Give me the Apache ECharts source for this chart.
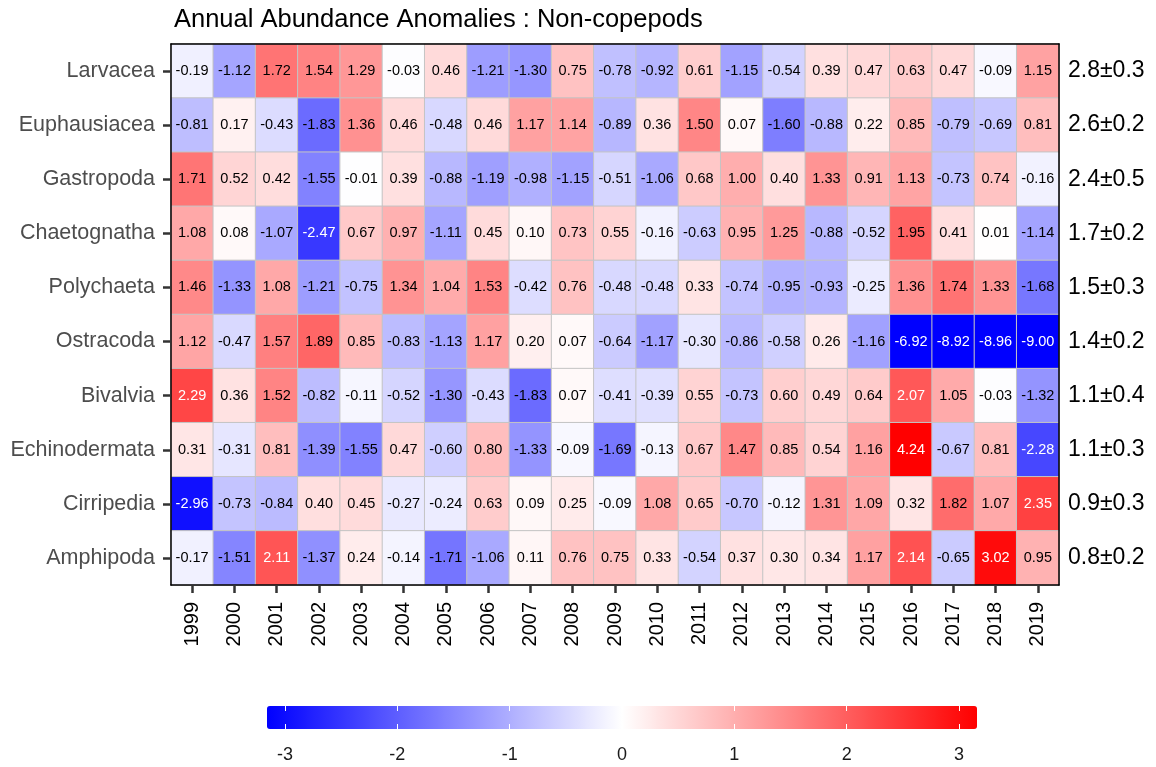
<!DOCTYPE html>
<html><head><meta charset="utf-8">
<script src="https://cdn.jsdelivr.net/npm/echarts@6/dist/echarts.min.js"></script>
<style>html,body{margin:0;padding:0;background:#fff}#c{width:1156px;height:767px}</style>
</head><body><div id="c"></div>
<script>
const years = ['1999','2000','2001','2002','2003','2004','2005','2006','2007','2008','2009','2010','2011','2012','2013','2014','2015','2016','2017','2018','2019'];
const taxa = ['Larvacea','Euphausiacea','Gastropoda','Chaetognatha','Polychaeta','Ostracoda','Bivalvia','Echinodermata','Cirripedia','Amphipoda'];
const rightLabels = ['2.8±0.3','2.6±0.2','2.4±0.5','1.7±0.2','1.5±0.3','1.4±0.2','1.1±0.4','1.1±0.3','0.9±0.3','0.8±0.2'];
const larvacea = [-0.19,-1.12,1.72,1.54,1.29,-0.03,0.46,-1.21,-1.30,0.75,-0.78,-0.92,0.61,-1.15,-0.54,0.39,0.47,0.63,0.47,-0.09,1.15];
const euphausiacea = [-0.81,0.17,-0.43,-1.83,1.36,0.46,-0.48,0.46,1.17,1.14,-0.89,0.36,1.50,0.07,-1.60,-0.88,0.22,0.85,-0.79,-0.69,0.81];
const gastropoda = [1.71,0.52,0.42,-1.55,-0.01,0.39,-0.88,-1.19,-0.98,-1.15,-0.51,-1.06,0.68,1.00,0.40,1.33,0.91,1.13,-0.73,0.74,-0.16];
const chaetognatha = [1.08,0.08,-1.07,-2.47,0.67,0.97,-1.11,0.45,0.10,0.73,0.55,-0.16,-0.63,0.95,1.25,-0.88,-0.52,1.95,0.41,0.01,-1.14];
const polychaeta = [1.46,-1.33,1.08,-1.21,-0.75,1.34,1.04,1.53,-0.42,0.76,-0.48,-0.48,0.33,-0.74,-0.95,-0.93,-0.25,1.36,1.74,1.33,-1.68];
const ostracoda = [1.12,-0.47,1.57,1.89,0.85,-0.83,-1.13,1.17,0.20,0.07,-0.64,-1.17,-0.30,-0.86,-0.58,0.26,-1.16,-6.92,-8.92,-8.96,-9.00];
const bivalvia = [2.29,0.36,1.52,-0.82,-0.11,-0.52,-1.30,-0.43,-1.83,0.07,-0.41,-0.39,0.55,-0.73,0.60,0.49,0.64,2.07,1.05,-0.03,-1.32];
const echinodermata = [0.31,-0.31,0.81,-1.39,-1.55,0.47,-0.60,0.80,-1.33,-0.09,-1.69,-0.13,0.67,1.47,0.85,0.54,1.16,4.24,-0.67,0.81,-2.28];
const cirripedia = [-2.96,-0.73,-0.84,0.40,0.45,-0.27,-0.24,0.63,0.09,0.25,-0.09,1.08,0.65,-0.70,-0.12,1.31,1.09,0.32,1.82,1.07,2.35];
const amphipoda = [-0.17,-1.51,2.11,-1.37,0.24,-0.14,-1.71,-1.06,0.11,0.76,0.75,0.33,-0.54,0.37,0.30,0.34,1.17,2.14,-0.65,3.02,0.95];
const colorbarTicks = [-3,-2,-1,0,1,2,3];

const rows = [larvacea,euphausiacea,gastropoda,chaetognatha,polychaeta,ostracoda,bivalvia,echinodermata,cirripedia,amphipoda];
const LIM = 3.16;
const FF = '"Liberation Sans", Arial, sans-serif';
const data = [];
rows.forEach((r,i)=>r.forEach((v,j)=>{
  const c = Math.max(-LIM, Math.min(LIM, v));
  data.push({value:[j,i,c,v], label:{show:true, fontFamily:FF, fontSize:14.5, color: Math.abs(v) > 2 ? '#ffffff' : '#000000'}});
}));
const chart = echarts.init(document.getElementById('c'), null, {renderer:'canvas'});
chart.setOption({
  animation:false,
  backgroundColor:'#ffffff',
  title:{text:'Annual Abundance Anomalies : Non-copepods', left:169, top:2,
    textStyle:{fontFamily:FF, fontSize:25.5, fontWeight:'normal', color:'#000'}},
  grid:[
    {left:171, top:44, width:888, height:541, containLabel:false},
    {left:267, top:706, width:710, height:23}
  ],
  xAxis:[
    {type:'category', data:years, gridIndex:0, position:'bottom', z:5,
     axisLine:{show:true, lineStyle:{color:'#000', width:1.5}},
     axisTick:{show:true, alignWithLabel:true, length:8, lineStyle:{color:'#333', width:2.5}},
     axisLabel:{rotate:90, margin:17, fontFamily:FF, fontSize:20, color:'#000'},
     splitLine:{show:false}},
    {type:'category', data:years, gridIndex:0, position:'top', z:5,
     axisLine:{show:true, lineStyle:{color:'#000', width:1.5}},
     axisTick:{show:false}, axisLabel:{show:false}},
    {type:'value', gridIndex:1, min:-LIM, max:LIM, position:'bottom', z:10,
     axisLine:{show:false}, splitLine:{show:false},
     axisTick:{show:true, inside:true, length:5, customValues:colorbarTicks, lineStyle:{color:'#fff', width:1}},
     axisLabel:{show:true, customValues:colorbarTicks, margin:17, fontFamily:FF, fontSize:18, color:'#1a1a1a'}},
    {type:'value', gridIndex:1, min:-LIM, max:LIM, position:'top', z:10,
     axisLine:{show:false}, splitLine:{show:false},
     axisTick:{show:true, inside:true, length:5, customValues:colorbarTicks, lineStyle:{color:'#fff', width:1}},
     axisLabel:{show:false}}
  ],
  yAxis:[
    {type:'category', data:taxa, inverse:true, gridIndex:0, position:'left', z:5,
     axisLine:{show:true, lineStyle:{color:'#000', width:1.5}},
     axisTick:{show:true, alignWithLabel:true, length:8, lineStyle:{color:'#333', width:2.5}},
     axisLabel:{margin:16, fontFamily:FF, fontSize:21.5, color:'#4d4d4d'}},
    {type:'category', data:rightLabels, inverse:true, gridIndex:0, position:'right', z:5,
     axisLine:{show:true, lineStyle:{color:'#000', width:1.5}},
     axisTick:{show:false},
     axisLabel:{margin:9, fontFamily:FF, fontSize:23, color:'#000'}},
    {type:'value', gridIndex:1, show:false, min:0, max:1}
  ],
  visualMap:{
    type:'continuous', orient:'horizontal', min:-LIM, max:LIM, dimension:2, seriesIndex:0,
    calculable:false, text:null, showLabel:false, left:267, top:706, itemWidth:23, itemHeight:710,
    padding:0, hoverLink:false,
    inRange:{color:['#0000ff','#ffffff','#ff0000']}
  },
  series:[{
    type:'heatmap', xAxisIndex:0, yAxisIndex:0, data:data,
    itemStyle:{borderColor:'#c4c4c4', borderWidth:1},
    label:{show:true, fontFamily:FF, fontSize:14.5, formatter:p=>p.value[3].toFixed(2)},
    emphasis:{disabled:true}
  }]
});
</script></body></html>
